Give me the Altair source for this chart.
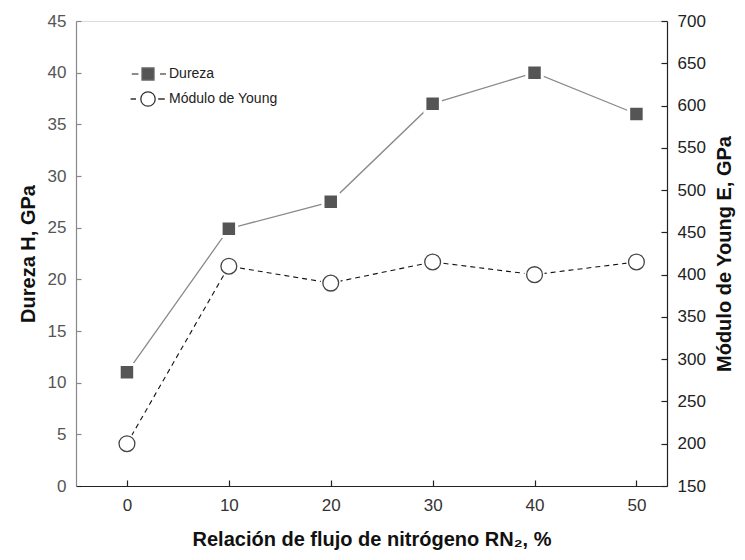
import altair as alt
import pandas as pd

flow = [0, 10, 20, 30, 40, 50]
hardness = [11.0, 24.9, 27.5, 37.0, 40.0, 36.0]
young = [200, 410, 390, 415, 400, 415]
series_names = ["Dureza", "Módulo de Young"]

df_h = pd.DataFrame({"x": flow, "v": hardness, "series": series_names[0]})
df_e = pd.DataFrame({"x": flow, "v": young, "series": series_names[1]})
df_leg = pd.DataFrame({"x": [flow[0], flow[0]], "series": series_names})

FONT = "Liberation Sans"
W, H = 591, 465
xscale = alt.Scale(domain=[-5, 53], nice=False, zero=False)
xaxis = alt.Axis(
    values=flow, title="Relación de flujo de nitrógeno RN₂, %",
    titleFont=FONT, titleFontSize=20, titleFontWeight="bold", titleColor="#111",
    titlePadding=16, labelFont=FONT, labelFontSize=17, labelColor="#333",
    labelPadding=11, tickSize=0, domainColor="#222", domainWidth=1.2,
    grid=True, gridDash=[0, H - 6, 6, 3000], gridColor="#222", gridWidth=1.2,
)

lax = alt.Axis(
    values=list(range(0, 46, 5)), title="Dureza  H, GPa", orient="left",
    titleFont=FONT, titleFontSize=20, titleFontWeight="bold", titleColor="#111",
    titlePadding=9, labelFont=FONT, labelFontSize=17, labelColor="#555",
    labelPadding=10, tickSize=0, domainColor="#888", domainWidth=1.2,
    grid=True, gridDash=[5, 3000], gridColor="#888", gridWidth=1.2,
)
rax = alt.Axis(
    values=list(range(150, 701, 50)), title="Módulo de Young E, GPa", orient="right",
    titleFont=FONT, titleFontSize=20, titleFontWeight="bold", titleColor="#111",
    titleAngle=270, titleBaseline="top",
    titlePadding=9, labelFont=FONT, labelFontSize=17, labelColor="#222",
    labelPadding=10, tickSize=0, domainColor="#222", domainWidth=1.2,
    grid=True, gridDash=[6, 3000], gridColor="#222", gridWidth=1.2,
)

ysc_l = alt.Scale(domain=[0, 45], nice=False)
ysc_r = alt.Scale(domain=[150, 700], nice=False, zero=False)

x_enc = alt.X("x:Q", scale=xscale, axis=xaxis)

h_line = alt.Chart(df_h).mark_line(color="#8a8a8a", strokeWidth=1.3).encode(
    x=x_enc, y=alt.Y("v:Q", scale=ysc_l, axis=lax)
)
h_pts = alt.Chart(df_h).mark_point(
    shape="square", filled=True, size=240, fill="#555555", stroke="white",
    strokeWidth=3, opacity=1
).encode(x=x_enc, y=alt.Y("v:Q", scale=ysc_l, axis=lax))
left = alt.layer(h_line, h_pts)

e_line = alt.Chart(df_e).mark_line(
    color="#111", strokeWidth=1.1, strokeDash=[5, 4]
).encode(x=x_enc, y=alt.Y("v:Q", scale=ysc_r, axis=rax))
e_halo = alt.Chart(df_e).mark_point(
    shape="circle", filled=True, size=420, fill="white", opacity=1
).encode(x=x_enc, y=alt.Y("v:Q", scale=ysc_r, axis=rax))
e_pts = alt.Chart(df_e).mark_point(
    shape="circle", filled=False, size=250, fill="white", stroke="#444",
    strokeWidth=1.3, opacity=1
).encode(x=x_enc, y=alt.Y("v:Q", scale=ysc_r, axis=rax))
right = alt.layer(e_line, e_halo, e_pts)

sq_path = "M-1,-1H1V1H-1Z M-2.7,0H-1.6 M2.0,0H3.0"
ci_path = "M-1.2,0A1.2,1.2 0 1,0 1.2,0A1.2,1.2 0 1,0 -1.2,0Z M-2.9,0H-2.0 M1.7,0H2.8"

legend = alt.Legend(
    title=None, orient="none", legendX=65, legendY=46, padding=0,
    symbolSize=144, symbolStrokeWidth=1.3, symbolOpacity=1,
    labelFont=FONT, labelFontSize=14, labelColor="#222", labelOffset=14,
    rowPadding=6,
)
leg_layer = alt.Chart(df_leg).mark_point(opacity=0).encode(
    x=x_enc,
    shape=alt.Shape("series:N", scale=alt.Scale(domain=series_names, range=[sq_path, ci_path]), legend=legend),
    fill=alt.Fill("series:N", scale=alt.Scale(domain=series_names, range=["#555555", "white"]), legend=legend),
    stroke=alt.Stroke("series:N", scale=alt.Scale(domain=series_names, range=["#666666", "#333333"]), legend=legend),
)

chart = alt.layer(left, right, leg_layer).resolve_scale(y="independent").properties(
    width=W, height=H,
    autosize=alt.AutoSizeParams(type="none"),
    padding={"left": 76, "top": 21, "right": 78, "bottom": 74},
).configure_view(stroke="#222", strokeWidth=1.2).configure(background="white")

chart.save("out.html", embed_options={"renderer": "svg", "actions": False})
